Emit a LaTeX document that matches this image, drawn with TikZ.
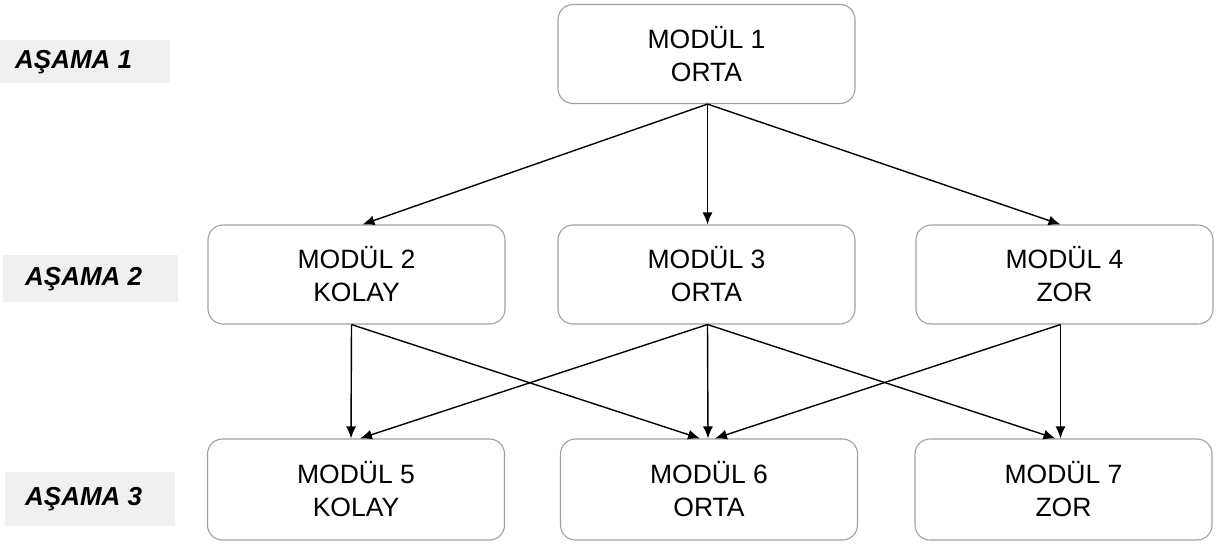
\documentclass[tikz,border=0pt]{standalone}
\usepackage{fontspec}
\setmainfont{Liberation Sans}
\usetikzlibrary{arrows.meta}
\definecolor{boxline}{HTML}{A0A0A0}
\definecolor{stagebg}{HTML}{F0F0F0}
\tikzset{
  modbox/.style={draw=boxline, line width=1.1pt, rounded corners=15pt,
    minimum width=297pt, minimum height=99pt, align=center, inner sep=0pt,
    font=\fontsize{26.5}{33}\selectfont},
  stagebox/.style={fill=stagebg, inner sep=0pt, anchor=north west},
  stagetext/.style={anchor=west, inner sep=0pt,
    font=\fontsize{26}{30}\selectfont\bfseries\itshape},
  link/.style={line width=1.4pt, -{Latex[length=12pt,width=10pt]}}
}
\begin{document}
\begin{tikzpicture}[x=1pt,y=1pt]
\useasboundingbox (0,0) rectangle (1221,-544);

% stage labels on the left
\node[stagebox, minimum width=170pt, minimum height=43pt] (s1) at (0,-40) {};
\node[stagetext] (t1) at ([xshift=15pt]s1.west) {AŞAMA 1};
\node[stagebox, minimum width=175pt, minimum height=47pt] (s2) at (3,-255) {};
\node[stagetext] (t2) at ([xshift=22pt]s2.west) {AŞAMA 2};
\node[stagebox, minimum width=170pt, minimum height=54pt] (s3) at (5,-472) {};
\node[stagetext] (t3) at ([xshift=20pt]s3.west) {AŞAMA 3};

% modules
\node[modbox] (m1) at (706.5,-54) {MODÜL 1\\ORTA};
\node[modbox] (m2) at (356.5,-274.5) {MODÜL 2\\KOLAY};
\node[modbox] (m3) at (706.5,-274.5) {MODÜL 3\\ORTA};
\node[modbox] (m4) at (1064.5,-274.5) {MODÜL 4\\ZOR};
\node[modbox, minimum height=101pt] (m5) at (356,-489.5) {MODÜL 5\\KOLAY};
\node[modbox, minimum height=101pt] (m6) at (709,-489.5) {MODÜL 6\\ORTA};
\node[modbox, minimum height=101pt] (m7) at (1063.5,-489.5) {MODÜL 7\\ZOR};

% stage 1 -> stage 2
\draw[link] ([xshift=1pt]m1.south) -- ([xshift=6pt]m2.north);
\draw[link] ([xshift=1pt]m1.south) -- ([xshift=1pt]m3.north);
\draw[link] ([xshift=1pt]m1.south) -- ([xshift=-4pt]m4.north);

% stage 2 -> stage 3
\draw[link] ([xshift=-5pt]m2.south) -- ([xshift=-5pt]m5.north);
\draw[link] ([xshift=-5pt]m2.south) -- ([xshift=-9pt]m6.north);
\draw[link] ([xshift=1pt]m3.south) -- ([xshift=4pt]m5.north);
\draw[link] ([xshift=1pt]m3.south) -- ([xshift=-1pt]m6.north);
\draw[link] ([xshift=1pt]m3.south) -- ([xshift=-8pt]m7.north);
\draw[link] ([xshift=-4pt]m4.south) -- ([xshift=6pt]m6.north);
\draw[link] ([xshift=-4pt]m4.south) -- ([xshift=-3pt]m7.north);
\end{tikzpicture}
\end{document}
